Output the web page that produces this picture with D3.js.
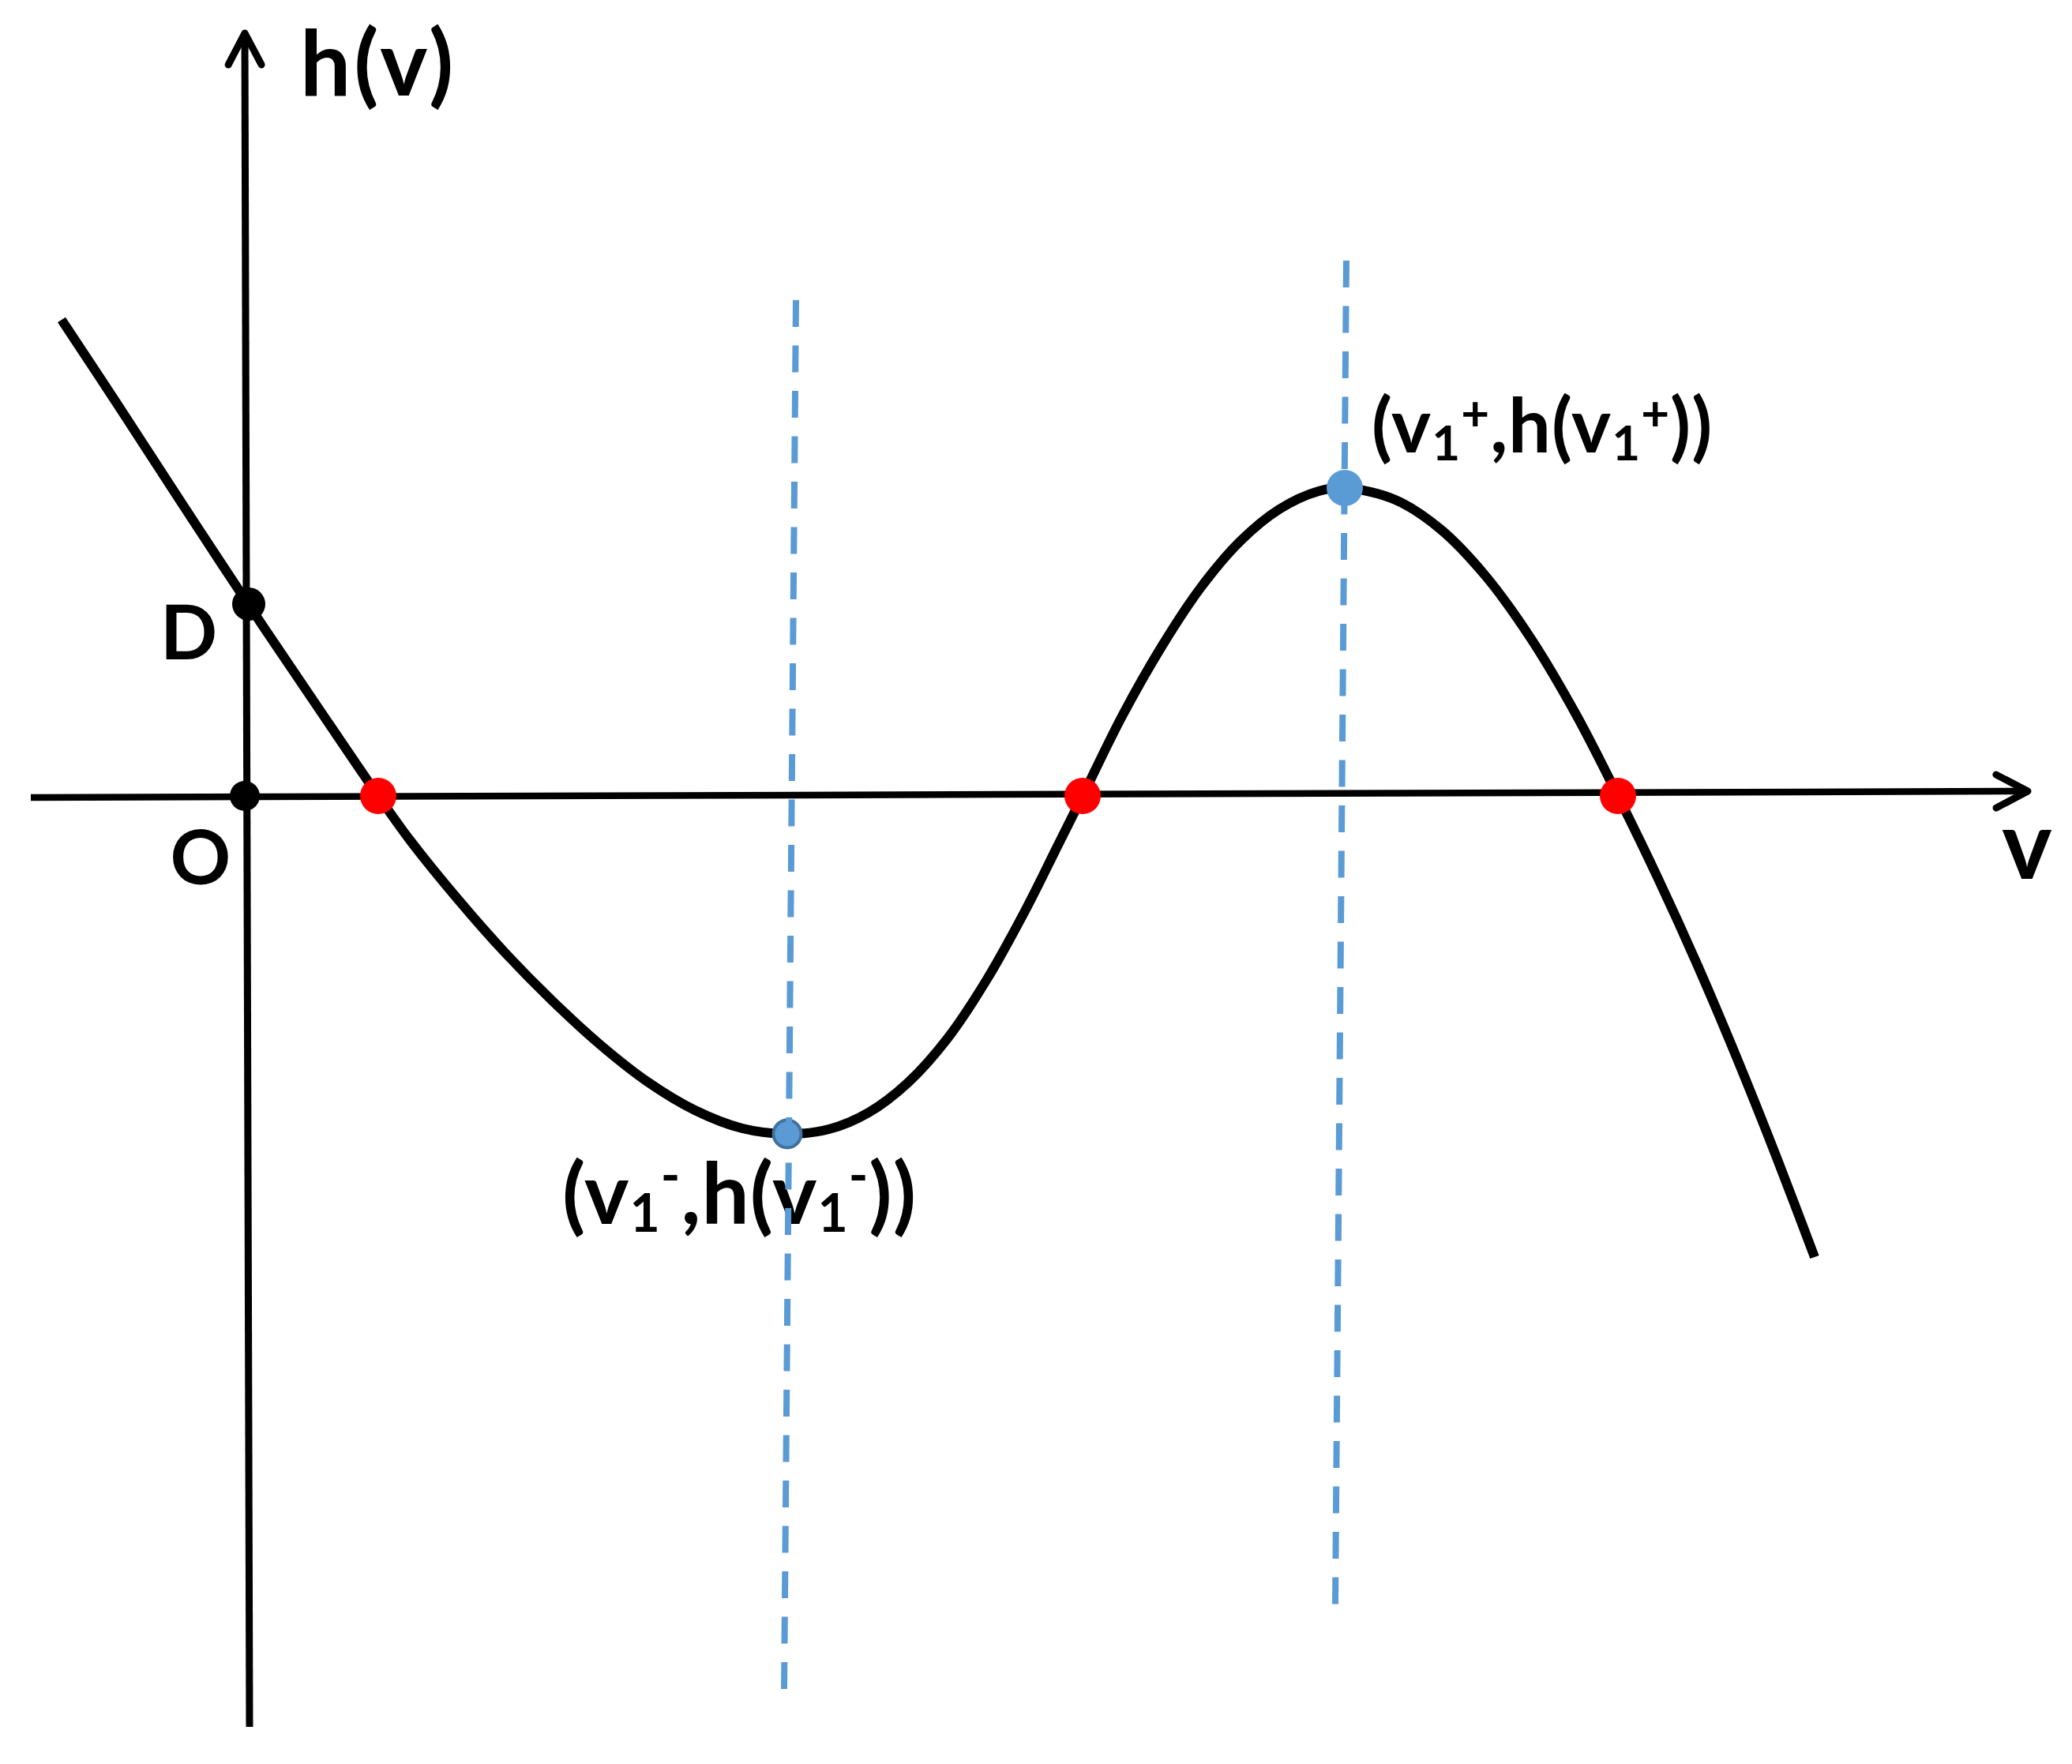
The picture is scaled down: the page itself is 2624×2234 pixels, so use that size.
<!DOCTYPE html>
<html>
<head>
<meta charset="utf-8">
<script src="https://cdn.jsdelivr.net/npm/d3@7"></script>
<style>
  body { margin: 0; background: #fff; }
  text { font-family: Lato, "Open Sans", sans-serif; font-weight: 700; fill: #000; }
</style>
</head>
<body>
<div id="chart"></div>
<script>
// the curve h(v) (1 unit = 100 px on both axes, O at the origin)
const curveV = [-2.32, -1.60, -0.80, 0.05, 0.90, 1.69, 2.10, 2.70, 3.30, 3.90, 4.50, 5.10, 5.70, 6.30,
  6.87, 7.40, 7.90, 8.40, 8.90, 9.40, 9.90, 10.30, 10.61, 11.11, 11.61, 12.10, 12.60, 13.10, 13.60,
  13.93, 14.57, 15.14, 15.71, 16.29, 16.86, 17.39, 17.90, 18.40, 18.90, 19.40, 19.88];
const curveH = [6.03, 4.94, 3.71, 2.42, 1.16, 0.00, -0.57, -1.31, -1.99, -2.60, -3.15, -3.62, -3.98, -4.21,
  -4.28, -4.22, -4.01, -3.63, -3.07, -2.32, -1.42, -0.62, 0.00, 1.01, 1.89, 2.63, 3.22, 3.63, 3.86,
  3.90, 3.75, 3.38, 2.79, 1.99, 1.03, 0.00, -1.05, -2.15, -3.33, -4.58, -5.84];

// zeros of h
const rootV = [1.69, 10.61, 17.39];
// local min / max (v1-, v1+)
const extremaV = [6.87, 13.93];
const extremaH = [-4.28, 3.90];
// h(0) = D
const dV = 0.05, dH = 2.43;

// dashed guides through the extrema (top and bottom ends)
const guideTopV = [6.98, 13.95], guideTopH = [6.28, 6.78];
const guideBotV = [6.83, 13.81], guideBotH = [-11.35, -10.25];

// axis ends (hand drawn, slightly tilted)
const xAxisV = [-2.71, 22.58], xAxisH = [-0.02, 0.06];
const yAxisV = [0.06, 0.00], yAxisH = [-11.79, 9.66];

const width = 2624, height = 2234;

const svg = d3.select("#chart")
  .append("svg")
  .attr("width", width)
  .attr("height", height)
  .style("display", "block");

const x = d3.scaleLinear().domain([-3.10, 23.14]).range([0, width]);
const y = d3.scaleLinear().domain([10.08, -12.26]).range([0, height]);

// open arrow head
svg.append("defs").append("marker")
  .attr("id", "arrow")
  .attr("markerUnits", "userSpaceOnUse")
  .attr("viewBox", "-60 -40 80 80")
  .attr("markerWidth", 80)
  .attr("markerHeight", 80)
  .attr("refX", 0)
  .attr("refY", 0)
  .attr("orient", "auto")
  .append("path")
  .attr("d", "M-40,-21L0,0L-40,21")
  .attr("fill", "none")
  .attr("stroke", "#000")
  .attr("stroke-width", 9)
  .attr("stroke-linecap", "round")
  .attr("stroke-linejoin", "round");

// axes
svg.append("line")
  .attr("x1", x(xAxisV[0])).attr("y1", y(xAxisH[0]))
  .attr("x2", x(xAxisV[1])).attr("y2", y(xAxisH[1]))
  .attr("stroke", "#000").attr("stroke-width", 8.5)
  .attr("marker-end", "url(#arrow)");

svg.append("line")
  .attr("x1", x(yAxisV[0])).attr("y1", y(yAxisH[0]))
  .attr("x2", x(yAxisV[1])).attr("y2", y(yAxisH[1]))
  .attr("stroke", "#000").attr("stroke-width", 9)
  .attr("marker-end", "url(#arrow)");

// the curve
const pts = curveV.map((v, i) => [v, curveH[i]]);
svg.append("path")
  .datum(pts)
  .attr("fill", "none")
  .attr("stroke", "#000")
  .attr("stroke-width", 12)
  .attr("d", d3.line().x(d => x(d[0])).y(d => y(d[1])).curve(d3.curveCatmullRom.alpha(0.5)));

// O and D
svg.append("circle").attr("cx", x(0)).attr("cy", y(0)).attr("r", 19).attr("fill", "#000");
svg.append("circle").attr("cx", x(dV)).attr("cy", y(dH)).attr("r", 21).attr("fill", "#000");

// zeros
svg.selectAll(".root")
  .data(rootV)
  .enter()
  .append("circle")
  .attr("class", "root")
  .attr("cx", d => x(d))
  .attr("cy", y(0))
  .attr("r", 23)
  .attr("fill", "#ff0000");

// extrema
svg.append("circle")
  .attr("cx", x(extremaV[0])).attr("cy", y(extremaH[0]))
  .attr("r", 17.5).attr("fill", "#5b9bd5")
  .attr("stroke", "#41719c").attr("stroke-width", 4);
svg.append("circle")
  .attr("cx", x(extremaV[1])).attr("cy", y(extremaH[1]))
  .attr("r", 23).attr("fill", "#5b9bd5");

// labels
svg.append("text").attr("x", 380).attr("y", 121).style("font-size", "114px").style("letter-spacing", "4px").text("h(v)");
svg.append("text").attr("x", 2567).attr("y", 1113).attr("text-anchor", "middle").style("font-size", "120px").text("v");
svg.append("text").attr("x", 203).attr("y", 835).style("font-size", "95px").text("D");
svg.append("text").attr("x", 254).attr("y", 1120).attr("text-anchor", "middle").style("font-size", "95px").text("O");

// point label with subscript 1 and a +/- superscript
function pointLabel(x0, y0, size, small, supOff, sign) {
  const t = svg.append("text").attr("x", x0).attr("y", y0)
    .style("font-size", size + "px")
    .style("letter-spacing", "1px");
  const subOff = 10;
  const parts = [
    ["(v", 0], ["1", 1], [sign, 2], [",h(v", 0], ["1", 1], [sign, 2], ["))", 0]
  ];
  let cur = 0;
  parts.forEach(([s, kind]) => {
    const target = kind === 1 ? subOff : kind === 2 ? supOff : 0;
    t.append("tspan")
      .attr("dy", target - cur)
      .style("font-size", (kind ? small : size) + "px")
      .text(s);
    cur = target;
  });
}
pointLabel(1737, 573, 95, 62, -28, "+");
pointLabel(712, 1550, 107, 66, -38, "-");

// dashed guides, drawn last (they run over the lower dot and label)
svg.selectAll(".guide")
  .data(extremaV)
  .enter()
  .append("line")
  .attr("class", "guide")
  .attr("x1", (d, i) => x(guideTopV[i])).attr("y1", (d, i) => y(guideTopH[i]))
  .attr("x2", (d, i) => x(guideBotV[i])).attr("y2", (d, i) => y(guideBotH[i]))
  .attr("stroke", "#5b9bd5")
  .attr("stroke-width", 8)
  .attr("stroke-dasharray", "34 23.5");
</script>
</body>
</html>
